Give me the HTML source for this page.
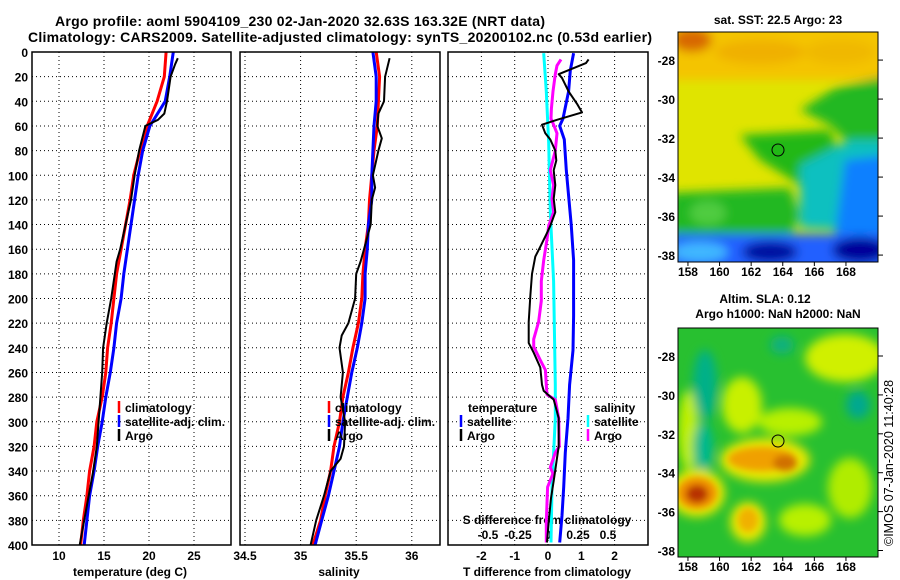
<!DOCTYPE html>
<html><head><meta charset="utf-8"><style>
html,body{margin:0;padding:0;background:#fff;width:900px;height:580px;overflow:hidden}
svg text{font-family:"Liberation Sans",Arial,sans-serif;font-weight:bold;fill:#000}
</style></head><body>
<svg id="fig" width="900" height="580" viewBox="0 0 900 580" xmlns="http://www.w3.org/2000/svg">
<defs>
<filter id="blur" x="-20%" y="-20%" width="140%" height="140%"><feGaussianBlur stdDeviation="5"/></filter>
<filter id="blur2" x="-20%" y="-20%" width="140%" height="140%"><feGaussianBlur stdDeviation="3.5"/></filter>
<clipPath id="clipTop"><rect x="678" y="32" width="200" height="230"/></clipPath>
<clipPath id="clipBot"><rect x="678" y="328" width="200" height="229"/></clipPath>
</defs>
<text x="55" y="26" font-size="14" textLength="490">Argo profile: aoml 5904109_230 02-Jan-2020 32.63S 163.32E (NRT data)</text>
<text x="28" y="42" font-size="14" textLength="624">Climatology: CARS2009. Satellite-adjusted climatology: synTS_20200102.nc (0.53d earlier)</text>

<g>
<text x="778" y="24" font-size="12" text-anchor="middle">sat. SST: 22.5 Argo: 23</text>
<g clip-path="url(#clipTop)">
<rect x="678" y="32" width="200" height="230" fill="#e0e400"/>
<g filter="url(#blur)">
<rect x="670" y="25" width="220" height="55" fill="#f4c400"/>
<ellipse cx="692" cy="40" rx="20" ry="12" fill="#d86800"/>
<ellipse cx="760" cy="52" rx="45" ry="12" fill="#f0b000"/>
<ellipse cx="840" cy="52" rx="35" ry="12" fill="#f0b800"/>
<polygon points="835,88 890,75 890,140 855,150 830,125 800,110" fill="#20b820"/>
<polygon points="740,135 830,130 845,170 800,185 760,160" fill="#20b818"/>
<polygon points="670,193 790,188 800,215 790,238 670,238" fill="#20b820"/>
<ellipse cx="708" cy="213" rx="18" ry="12" fill="#50cc40"/>
<polygon points="800,165 850,140 890,140 890,232 800,228" fill="#10c0c0"/>
<polygon points="845,160 890,155 890,240 835,235" fill="#1080ff"/>
<rect x="670" y="234" width="220" height="40" fill="#2060ff"/>
<ellipse cx="700" cy="252" rx="28" ry="10" fill="#40b8ff"/>
<ellipse cx="770" cy="252" rx="28" ry="11" fill="#0010a0"/>
<ellipse cx="860" cy="250" rx="28" ry="13" fill="#00009a"/>
</g>
</g>
<rect x="678" y="32" width="200" height="230" fill="none" stroke="#000"/>
<circle cx="778" cy="150" r="6" fill="none" stroke="#000"/>
</g>

<g>
<text x="765" y="303" font-size="12" text-anchor="middle">Altim. SLA: 0.12</text>
<text x="778" y="318" font-size="12" text-anchor="middle">Argo h1000: NaN h2000: NaN</text>
<g clip-path="url(#clipBot)">
<rect x="678" y="328" width="200" height="229" fill="#28c030"/>
<g filter="url(#blur)">
<ellipse cx="845" cy="358" rx="40" ry="24" fill="#d0f000"/>
<ellipse cx="790" cy="422" rx="32" ry="14" fill="#b8f000"/>
<ellipse cx="742" cy="405" rx="20" ry="28" fill="#c8f000"/>
<ellipse cx="850" cy="488" rx="22" ry="30" fill="#b0ec00"/>
<ellipse cx="805" cy="520" rx="26" ry="16" fill="#b8f000"/>
<ellipse cx="688" cy="430" rx="10" ry="40" fill="#c0f000"/>
<ellipse cx="705" cy="385" rx="12" ry="35" fill="#00b088"/>
<ellipse cx="703" cy="448" rx="10" ry="26" fill="#00b890"/>
<ellipse cx="858" cy="405" rx="12" ry="14" fill="#00a890"/>
<ellipse cx="782" cy="345" rx="12" ry="9" fill="#10b080"/>
<ellipse cx="765" cy="460" rx="45" ry="22" fill="#e8e800"/>
<ellipse cx="697" cy="493" rx="28" ry="24" fill="#e8e800"/>
<ellipse cx="748" cy="522" rx="18" ry="20" fill="#e8e800"/>
</g>
<g filter="url(#blur2)">
<ellipse cx="762" cy="459" rx="34" ry="12" fill="#f0a000"/>
<ellipse cx="785" cy="463" rx="12" ry="8" fill="#d07000"/>
<ellipse cx="697" cy="493" rx="20" ry="16" fill="#f09000"/>
<ellipse cx="697" cy="494" rx="11" ry="9" fill="#b83000"/>
<ellipse cx="748" cy="520" rx="10" ry="12" fill="#f0b000"/>
</g>
</g>
<rect x="678" y="328" width="200" height="229" fill="none" stroke="#000"/>
<circle cx="778" cy="441" r="6" fill="none" stroke="#000"/>
</g>

<text transform="translate(893,546) rotate(-90)" font-size="12.5" style="font-weight:normal">©IMOS 07-Jan-2020 11:40:28</text>
<g id="plots"></g>
</svg>
<script>
// ---------- data ----------
const tempDepthClim = [0,20,40,60,80,100,120,140,160,180,200,220,240,260,280,300,320,340,360,380,400];
const tempClim = [21.9,21.7,20.9,19.8,19.0,18.3,17.9,17.4,16.9,16.4,16.1,15.8,15.4,15.2,14.8,14.2,13.9,13.4,13.1,12.7,12.4];
const tempSat  = [22.7,22.3,21.8,20.1,19.3,18.8,18.4,18.0,17.6,17.2,16.9,16.4,16.1,15.7,15.2,14.8,14.3,13.9,13.4,13.1,12.8];
const argoDepth = [5,10,20,40,50,55,60,80,100,120,140,160,170,180,200,220,240,260,280,300,320,340,360,380,400];
const tempArgo = [23.2,22.9,22.4,22.0,21.7,21.0,19.6,18.9,18.4,18.0,17.4,16.8,16.4,16.2,15.8,15.3,14.9,14.8,14.6,14.4,14.2,13.8,13.3,12.8,12.3];
const salDepth = [0,20,40,60,80,100,120,140,160,180,200,220,240,260,280,300,320,340,360,380,400];
const salClim = [35.68,35.71,35.70,35.69,35.66,35.64,35.62,35.61,35.58,35.56,35.55,35.52,35.47,35.43,35.38,35.35,35.30,35.27,35.22,35.18,35.11];
const salSat  = [35.65,35.68,35.68,35.66,35.65,35.64,35.64,35.61,35.60,35.58,35.58,35.55,35.51,35.46,35.42,35.38,35.35,35.30,35.25,35.19,35.13];
const salArgoDepth = [5,20,40,50,60,70,80,100,110,120,140,160,170,180,200,220,230,240,260,280,300,320,330,340,360,380,400];
const salArgo = [35.80,35.76,35.75,35.70,35.69,35.73,35.70,35.65,35.67,35.64,35.63,35.57,35.54,35.50,35.49,35.43,35.37,35.35,35.38,35.36,35.40,35.39,35.36,35.27,35.21,35.14,35.09];
const dTSatDepth = [1,15,32,54,60,71,96,141,169,214,242,270,297,325,353,376,398];
const dTSat = [0.77,0.67,0.62,0.45,0.35,0.49,0.55,0.70,0.77,0.77,0.75,0.65,0.60,0.52,0.47,0.42,0.35];
const dTArgoDepth = [6,9,18,21,32,42,49,55,59,66,71,80,88,96,108,119,130,141,148,158,166,180,197,219,236,244,256,270,275,282,297,320,339,348,362,381,398];
const dTArgo = [1.22,1.14,0.32,0.42,0.62,0.87,1.02,0.27,-0.18,-0.08,0.07,0.22,0.25,0.17,0.22,0.17,0.22,0.07,-0.05,-0.23,-0.38,-0.48,-0.53,-0.58,-0.58,-0.43,-0.23,-0.18,-0.13,0.17,0.32,0.32,0.22,0.17,0.09,0.02,-0.03];
const dSArgoDepth = [6,11,18,32,46,54,59,66,80,96,108,119,130,141,152,169,186,202,219,233,239,250,258,270,278,282,297,320,325,337,342,353,381,398];
const dSArgo = [0.108,0.075,0.061,0.042,0.028,0.025,0.047,0.075,0.061,0.019,0.047,0.033,0.047,0.006,-0.008,-0.036,-0.056,-0.056,-0.078,-0.119,-0.119,-0.064,-0.022,-0.014,-0.008,0.061,0.089,0.094,0.061,0.019,0.042,-0.003,-0.014,-0.014];
const dSSatDepth = [1,32,74,130,186,270,297,353,398];
const dSSat = [-0.036,-0.014,0.006,0.019,0.047,0.061,0.061,0.033,0.025];
const depthTicks = [0,20,40,60,80,100,120,140,160,180,200,220,240,260,280,300,320,340,360,380,400];
const tempTicks = [10,15,20,25];
const salTicks = [34.5,35,35.5,36];
const dTTicks = [-2,-1,0,1,2];
const dSTicks = [-0.5,-0.25,0,0.25,0.5];
const dSTickLabels = ["-0.5","-0.25","0","0.25","0.5"];
const latTicks = [-28,-30,-32,-34,-36,-38];
const lonTicks = [158,160,162,164,166,168];

// ---------- scales ----------
const NS='http://www.w3.org/2000/svg';
const yD = d => 52 + d*1.2325;
const xT = t => 59 + (t-10)*9.0;
const xS = s => 245 + (s-34.5)*111.2;
const xDT = v => 548 + v*33.3;
const xDS = v => 548 + v*120;
const yLatTop = l => 32 + (-26.56 - l)*19.5;
const yLatBot = l => 328 + (-26.56 - l)*19.45;
const xLon = l => 678 + (l-157.37)*15.8;
const root = document.getElementById('plots');
function mk(tag, attrs, parent){const e=document.createElementNS(NS,tag);for(const k in attrs)e.setAttribute(k,attrs[k]);(parent||root).appendChild(e);return e;}
function txt(s,x,y,anchor,size,name){const e=mk('text',{x:x,y:y,'text-anchor':anchor,'font-size':size});e.textContent=s;


return e;}
function line(xs,ds,fx,color,w,name){const pts=xs.map((v,i)=>fx(v).toFixed(1)+','+yD(ds[i]).toFixed(1)).join(' ');
const e=mk('polyline',{points:pts,fill:'none',stroke:color,'stroke-width':w,'stroke-linejoin':'round'});


return e;}

const panels=[{x0:32,x1:231,name:'temperature-panel'},{x0:240,x1:440,name:'salinity-panel'},{x0:448,x1:648,name:'difference-panel'}];
panels.forEach(p=>{
  depthTicks.forEach(d=>{ if(d>0&&d<400){const g=mk('line',{x1:p.x0,x2:p.x1,y1:yD(d),y2:yD(d),stroke:'#000','stroke-dasharray':'1,3','stroke-width':1});
    
    }});
});
tempTicks.forEach(t=>{const g=mk('line',{x1:xT(t),x2:xT(t),y1:52,y2:545,stroke:'#000','stroke-dasharray':'1,3'});


txt(String(t),xT(t),560,'middle',12,'temp-tick-label');});
salTicks.forEach(s=>{const g=mk('line',{x1:xS(s),x2:xS(s),y1:52,y2:545,stroke:'#000','stroke-dasharray':'1,3'});


txt(String(s),xS(s),560,'middle',12,'sal-tick-label');});
dTTicks.forEach(v=>{const g=mk('line',{x1:xDT(v),x2:xDT(v),y1:52,y2:545,stroke:'#000','stroke-dasharray':'1,3'});


txt(String(v),xDT(v),560,'middle',12,'dt-tick-label');});
dSTicks.forEach((v,i)=>{txt(dSTickLabels[i],xDS(v),539,'middle',12,'ds-tick-label');});
depthTicks.forEach(d=>{txt(String(d),28,yD(d)+5,'end',12,'depth-tick-label');});

txt('temperature (deg C)',130,576,'middle',12,'temp-axis-title');
txt('salinity',339,576,'middle',12,'sal-axis-title');
txt('T difference from climatology',547,576,'middle',12,'dt-axis-title');
txt('S difference from climatology',547,524,'middle',12,'ds-axis-title');

line(tempClim,tempDepthClim,xT,'#ff0000',3,'temp-climatology-line');
line(tempSat,tempDepthClim,xT,'#0000ff',3,'temp-satellite-line');
line(tempArgo,argoDepth,xT,'#000',2,'temp-argo-line');
line(salClim,salDepth,xS,'#ff0000',3,'sal-climatology-line');
line(salSat,salDepth,xS,'#0000ff',3,'sal-satellite-line');
line(salArgo,salArgoDepth,xS,'#000',2,'sal-argo-line');
line(dSSat,dSSatDepth,xDS,'#00ffff',3,'ds-satellite-line');
line(dTSat,dTSatDepth,xDT,'#0000ff',3,'dt-satellite-line');
line(dSArgo,dSArgoDepth,xDS,'#ff00ff',3,'ds-argo-line');
line(dTArgo,dTArgoDepth,xDT,'#000',2,'dt-argo-line');

panels.forEach(p=>{const r=mk('rect',{x:p.x0,y:52,width:p.x1-p.x0,height:493,fill:'none',stroke:'#000','stroke-width':1.5});

});

function legend(x,items,start,name){items.forEach((it,i)=>{const y=407+(i+start)*14;
 const m=mk('line',{x1:x,x2:x,y1:y-6,y2:y+6,stroke:it[1],'stroke-width':2.5});
 
 
 txt(it[0],x+6,y+5,'start',12,name+'-label');});}
legend(119,[['climatology','#f00'],['satellite-adj. clim.','#00f'],['Argo','#000']],0,'temp-legend');
legend(329,[['climatology','#f00'],['satellite-adj. clim.','#00f'],['Argo','#000']],0,'sal-legend');
txt('temperature',468,412,'start',12,'dt-legend-title');
legend(461,[['satellite','#00f'],['Argo','#000']],1,'dt-legend');
txt('salinity',594,412,'start',12,'ds-legend-title');
legend(588,[['satellite','#0ff'],['Argo','#f0f']],1,'ds-legend');

// map axes
[[yLatTop,262,276],[yLatBot,557,571]].forEach((m,mi)=>{
 latTicks.forEach(l=>{const y=m[0](l);txt(String(l),675,y+5,'end',12,'lat-tick-label');
  const t=mk('line',{x1:878,x2:883,y1:y,y2:y,stroke:'#000'});
  
  });
 lonTicks.forEach(l=>{const x=xLon(l);txt(String(l),x,m[2],'middle',12,'lon-tick-label');
  const t=mk('line',{x1:x,x2:x,y1:m[1],y2:m[1]+4,stroke:'#000'});
  
  });
});
</script>
</body></html>
